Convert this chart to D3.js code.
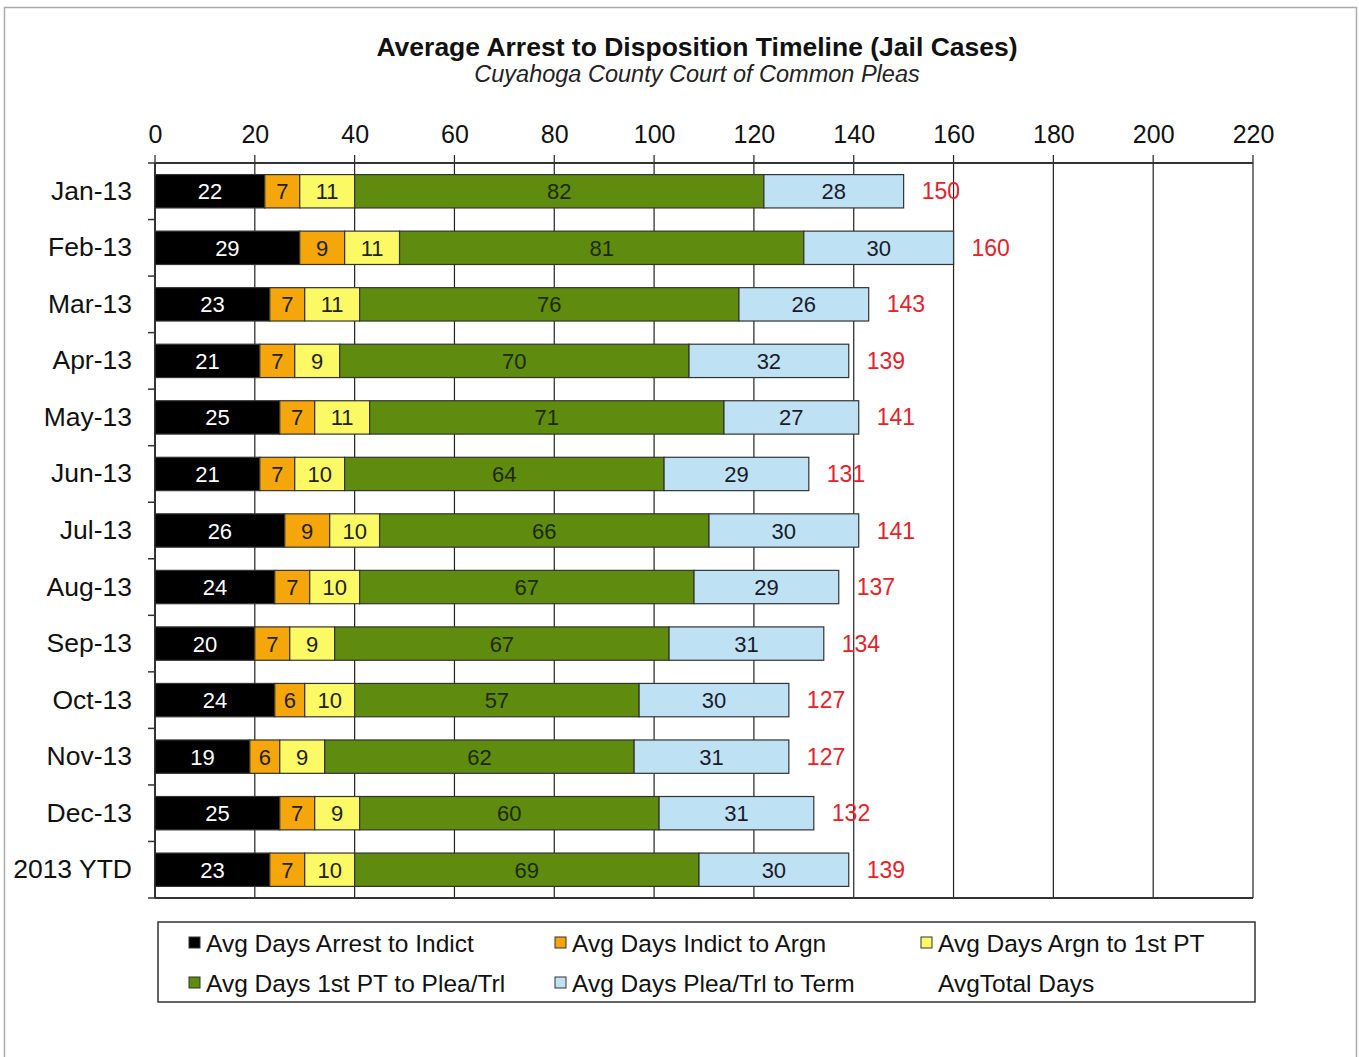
<!DOCTYPE html>
<html><head><meta charset="utf-8">
<script src="https://cdn.jsdelivr.net/npm/d3@7"></script>
<style>body{margin:0;background:#fff;font-family:"Liberation Sans",Arial,sans-serif;}</style>
</head><body>
<svg id="c" width="1359" height="1057"></svg>
<script>
const categories = ["Jan-13","Feb-13","Mar-13","Apr-13","May-13","Jun-13","Jul-13","Aug-13","Sep-13","Oct-13","Nov-13","Dec-13","2013 YTD"];
const arrestToIndict = [22,29,23,21,25,21,26,24,20,24,19,25,23];
const indictToArgn   = [7,9,7,7,7,7,9,7,7,6,6,7,7];
const argnTo1stPT    = [11,11,11,9,11,10,10,10,9,10,9,9,10];
const ptToPleaTrl    = [82,81,76,70,71,64,66,67,67,57,62,60,69];
const pleaTrlToTerm  = [28,30,26,32,27,29,30,29,31,30,31,31,30];
const totalDays      = [150,160,143,139,141,131,141,137,134,127,127,132,139];
const xTicks = [0,20,40,60,80,100,120,140,160,180,200,220];
const seriesNames = ["Avg Days Arrest to Indict","Avg Days Indict to Argn","Avg Days Argn to 1st PT","Avg Days 1st PT to Plea/Trl","Avg Days Plea/Trl to Term"];
const seriesColors = ["#000000","#F5A60A","#FBF964","#5F8B0E","#BEE1F4"];
const labelColors = ["#ffffff","#222222","#222222","#1d2a06","#1a1a2a"];

const svg = d3.select("#c");
const font = '"Liberation Sans",Arial,sans-serif';

// outer frame
svg.append("rect").attr("x",4.5).attr("y",7.5).attr("width",1352).attr("height",1060)
  .attr("fill","none").attr("stroke","#aaa").attr("stroke-width",1.5);

svg.append("text").attr("x",697).attr("y",56).attr("text-anchor","middle")
  .attr("font-family",font).attr("font-weight","bold").attr("font-size",26.5).attr("fill","#111")
  .text("Average Arrest to Disposition  Timeline  (Jail Cases)");
svg.append("text").attr("x",697).attr("y",82).attr("text-anchor","middle")
  .attr("font-family",font).attr("font-style","italic").attr("font-size",23.5).attr("fill","#222")
  .text("Cuyahoga  County  Court  of  Common  Pleas");

const pLeft = 155, pRight = 1253, pTop = 163, pBottom = 898;
const x = d3.scaleLinear().domain([0,220]).range([pLeft,pRight]);
const y = d3.scaleBand().domain(categories).range([pTop,pBottom]).paddingInner(0.41).paddingOuter(0.205);

const g = svg.append("g");
// gridlines
g.selectAll("line.grid").data(xTicks).join("line")
  .attr("x1",d=>x(d)).attr("x2",d=>x(d)).attr("y1",pTop-8).attr("y2",pBottom)
  .attr("stroke","#222").attr("stroke-width",1.2);
g.append("line").attr("x1",pLeft).attr("x2",pRight).attr("y1",pTop).attr("y2",pTop).attr("stroke","#333").attr("stroke-width",2);
g.append("line").attr("x1",pLeft).attr("x2",pRight).attr("y1",pBottom).attr("y2",pBottom).attr("stroke","#333").attr("stroke-width",2);
g.append("line").attr("x1",pLeft).attr("x2",pLeft).attr("y1",pTop).attr("y2",pBottom).attr("stroke","#333").attr("stroke-width",2);
// y ticks at category boundaries
const step = y.step();
const bounds = d3.range(categories.length+1).map(i=>pTop+i*step);
g.selectAll("line.yt").data(bounds).join("line")
  .attr("x1",pLeft-7).attr("x2",pLeft).attr("y1",d=>d).attr("y2",d=>d).attr("stroke","#333").attr("stroke-width",1.5);

// top axis labels
const ax = d3.axisTop(x).tickValues(xTicks).tickSize(0).tickPadding(20);
const axg = svg.append("g").attr("transform",`translate(0,${pTop})`).call(ax);
axg.select(".domain").remove();
axg.selectAll("text").attr("font-family",font).attr("font-size",25).attr("fill","#111");

// y labels
const ay = d3.axisLeft(y).tickSize(0).tickPadding(23);
const ayg = svg.append("g").attr("transform",`translate(${pLeft},0)`).call(ay);
ayg.select(".domain").remove();
ayg.selectAll("text").attr("font-family",font).attr("font-size",26.5).attr("fill","#111");

// stacked data
const table = categories.map((c,i)=>({cat:c, s0:arrestToIndict[i], s1:indictToArgn[i], s2:argnTo1stPT[i], s3:ptToPleaTrl[i], s4:pleaTrlToTerm[i], total:totalDays[i]}));
const keys = ["s0","s1","s2","s3","s4"];
const stack = d3.stack().keys(keys)(table);

stack.forEach((layer,k)=>{
  const lg = svg.append("g");
  lg.selectAll("rect").data(layer).join("rect")
    .attr("x",d=>x(d[0])).attr("y",d=>y(d.data.cat))
    .attr("width",d=>x(d[1])-x(d[0])).attr("height",y.bandwidth())
    .attr("fill",seriesColors[k]).attr("stroke","#333").attr("stroke-width",1.2);
  lg.selectAll("text").data(layer).join("text")
    .attr("x",d=>(x(d[0])+x(d[1]))/2).attr("y",d=>y(d.data.cat)+y.bandwidth()/2+8)
    .attr("text-anchor","middle").attr("font-family",font).attr("font-size",22)
    .attr("fill",labelColors[k]).text(d=>d.data[keys[k]]);
});

// totals
svg.append("g").selectAll("text").data(table).join("text")
  .attr("x",d=>x(d.total)+18).attr("y",d=>y(d.cat)+y.bandwidth()/2+8)
  .attr("font-family",font).attr("font-size",23).attr("fill","#E3222B").text(d=>d.total);

// legend
svg.append("rect").attr("x",158).attr("y",922).attr("width",1097).attr("height",80)
  .attr("fill","#fff").attr("stroke","#333").attr("stroke-width",1.5);
const legendItems = seriesNames.map((n,i)=>({name:n,color:seriesColors[i]})).concat([{name:"AvgTotal Days",color:null}]);
const colX = [189,555,921], rowY = [943,983];
const lgd = svg.append("g").selectAll("g").data(legendItems).join("g")
  .attr("transform",(d,i)=>`translate(${colX[i%3]},${rowY[Math.floor(i/3)]})`);
lgd.filter(d=>d.color).append("rect").attr("x",0).attr("y",-6).attr("width",11).attr("height",11)
  .attr("fill",d=>d.color).attr("stroke","#333").attr("stroke-width",1);
lgd.append("text").attr("x",17).attr("y",8.5).attr("font-family",font).attr("font-size",24.5)
  .attr("fill","#111").text(d=>d.name);
</script>
</body></html>
